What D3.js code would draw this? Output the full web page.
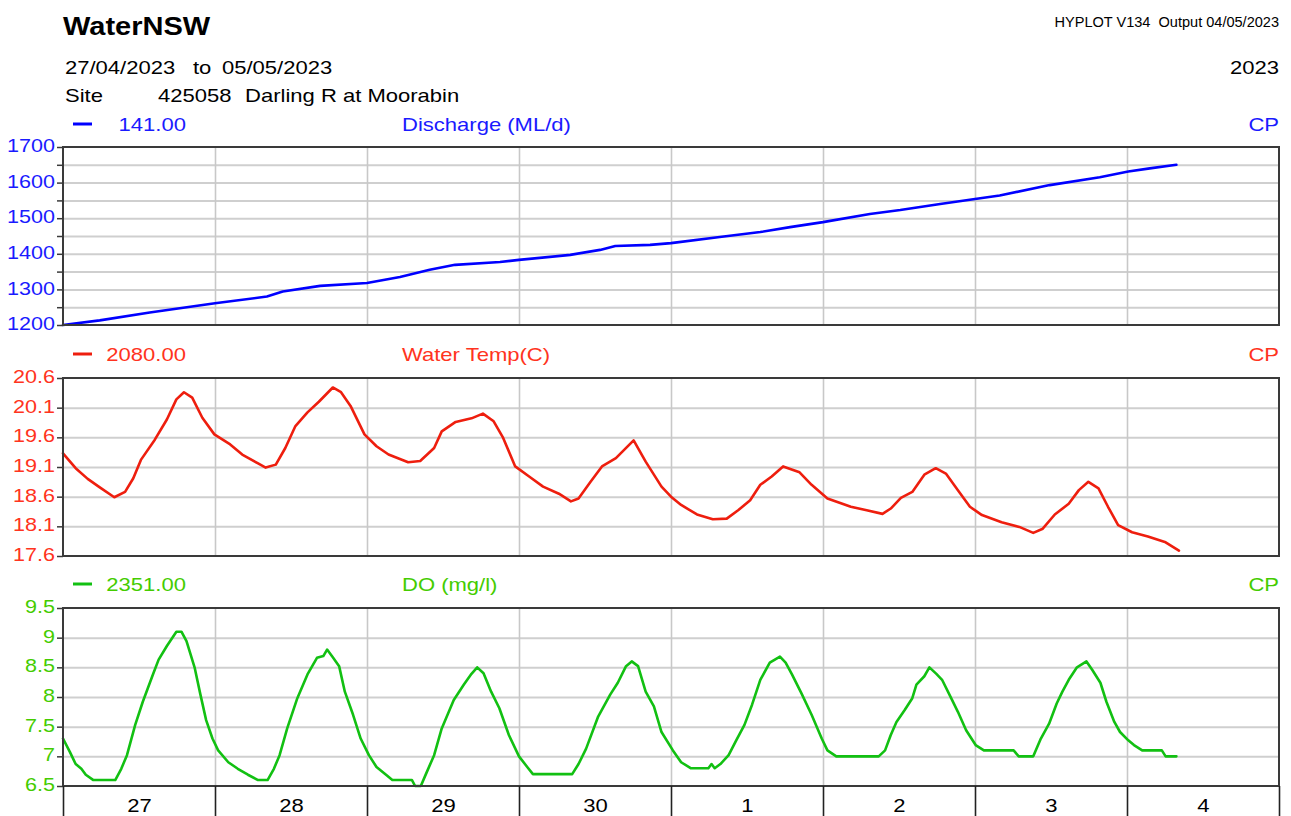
<!DOCTYPE html>
<html><head><meta charset="utf-8">
<script src="https://cdn.jsdelivr.net/npm/d3@7"></script>
<style>body{margin:0;background:#fff}svg{display:block}</style>
</head><body>
<svg id="c" width="1291" height="816"></svg>
<script>
// ---------- DATA ----------
const startDate = new Date(2023, 3, 27, 0, 0, 0);
const dayLabels = ["27", "28", "29", "30", "1", "2", "3", "4"];
const dischargeTicks = [1200, 1300, 1400, 1500, 1600, 1700];
const dischargeGrid = [1250, 1300, 1350, 1400, 1450, 1500, 1550, 1600, 1650];
const tempTicks = [17.6, 18.1, 18.6, 19.1, 19.6, 20.1, 20.6];
const doTicks = [6.5, 7, 7.5, 8, 8.5, 9, 9.5];
// [hours since 27/04/2023 00:00, value]
const discharge = [
  [0,1200],[5.8,1213],[13.7,1235],[24,1261],[32.2,1280],[34.7,1294],[40.6,1310],
  [48,1318],[53.2,1335],[57.9,1355],[61.9,1369],[69,1377],[72,1383],[80.1,1397],
  [84.8,1411],[87.2,1422],[92.7,1425],[96,1430],[103.7,1447],[110.1,1461],[114.8,1475],
  [120,1489],[127.4,1512],[132.2,1523],[138.5,1540],[144,1554],[147.9,1564],[155.8,1593],
  [163.7,1615],[168.2,1631],[171.6,1640],[175.8,1650]
];
const waterTemp = [
  [0,19.33],[2,19.08],[3.9,18.90],[5.75,18.76],[8.1,18.59],[9.8,18.68],[11.1,18.91],
  [12.3,19.22],[14.5,19.56],[16.4,19.90],[17.9,20.24],[19.1,20.36],[20.4,20.27],[22,19.93],
  [23.9,19.65],[26.4,19.48],[28.3,19.31],[30.8,19.16],[32,19.09],[33.6,19.14],[35.1,19.42],
  [36.7,19.79],[38.6,20.02],[40.4,20.20],[42.6,20.44],[43.9,20.36],[45.4,20.13],[47.6,19.65],
  [49.5,19.45],[51.4,19.31],[54.5,19.18],[56.4,19.20],[58.6,19.42],[59.8,19.70],[62,19.86],
  [64.5,19.92],[66.3,20.00],[68,19.87],[69.5,19.59],[71.4,19.11],[73.6,18.94],[75.8,18.77],
  [78.3,18.65],[80.2,18.52],[81.4,18.57],[83.3,18.85],[85.1,19.11],[87.3,19.25],[90.1,19.55],
  [92,19.19],[94.5,18.77],[96,18.60],[97.6,18.46],[100.1,18.30],[102.6,18.22],[104.8,18.23],
  [106.6,18.37],[108.5,18.54],[110.1,18.80],[111.9,18.94],[113.7,19.11],[116.3,19.01],
  [118.2,18.80],[120.7,18.57],[124.4,18.43],[126.9,18.37],[129.4,18.31],[130.7,18.40],
  [132.3,18.58],[134.1,18.68],[136,18.97],[137.8,19.08],[139.4,18.99],[141.3,18.71],
  [143.2,18.43],[145.1,18.29],[148.2,18.17],[151,18.09],[153.2,17.99],[154.7,18.06],
  [156.6,18.30],[158.8,18.48],[160.4,18.71],[161.9,18.85],[163.5,18.74],[165,18.43],
  [166.6,18.12],[168.8,18.00],[171.3,17.93],[174.1,17.83],[176.2,17.69]
];
const dissolvedOxygen = [
  [0,7.30],[1.1,7.07],[2,6.87],[2.9,6.79],[3.6,6.69],[4.8,6.6],[8.25,6.6],[9.2,6.79],
  [10.1,7.02],[11.4,7.53],[12.6,7.92],[14.2,8.38],[15.1,8.63],[16.4,8.86],[17.9,9.1],
  [18.7,9.1],[19.5,8.94],[20.8,8.49],[21.7,8.04],[22.6,7.61],[23.6,7.30],[24.5,7.10],
  [26.1,6.90],[27.6,6.79],[29.2,6.69],[30.8,6.6],[32.3,6.6],[33.3,6.79],[34.2,7.02],
  [35.4,7.47],[37,7.98],[38.6,8.38],[40.1,8.66],[41.1,8.69],[41.7,8.8],[42.6,8.67],
  [43.6,8.52],[44.5,8.09],[45.8,7.70],[47,7.30],[48.3,7.02],[49.5,6.82],[51.1,6.68],
  [52,6.6],[55.1,6.6],[55.6,6.5],[56.5,6.5],[57.3,6.70],[58.6,7.02],[59.8,7.47],[61.7,7.95],
  [63.3,8.21],[64.5,8.39],[65.4,8.5],[66.4,8.4],[67.6,8.09],[68.9,7.81],[70.4,7.36],[72,7.0],
  [73.3,6.82],[74.2,6.7],[80.4,6.7],[81.4,6.87],[82.6,7.13],[84.5,7.67],[86.4,8.04],
  [87.6,8.24],[88.9,8.52],[89.8,8.6],[90.8,8.52],[92,8.09],[93.3,7.84],[94.5,7.41],
  [96.3,7.10],[97.6,6.90],[99.1,6.8],[101.9,6.8],[102.4,6.87],[102.9,6.8],[103.8,6.87],
  [105.1,7.02],[106.3,7.27],[107.6,7.53],[108.8,7.87],[110.1,8.29],[111.6,8.58],[113.2,8.68],
  [114.1,8.58],[115.1,8.38],[116.6,8.06],[118.2,7.70],[119.8,7.30],[120.7,7.10],[122.1,7.0],
  [128.8,7.0],[129.8,7.10],[130.7,7.36],[131.6,7.58],[132.9,7.78],[134.1,7.98],[134.75,8.21],
  [136,8.35],[136.8,8.5],[137.9,8.39],[138.8,8.29],[140.1,8.01],[141.3,7.75],[142.6,7.44],
  [144.1,7.19],[145.4,7.1],[150.1,7.1],[150.9,7.0],[153.2,7.0],[154.4,7.30],[155.7,7.55],
  [156.9,7.89],[157.8,8.09],[158.8,8.29],[160.1,8.5],[161.6,8.6],[162.5,8.46],[163.8,8.24],
  [164.75,7.92],[166,7.58],[166.9,7.41],[168.2,7.27],[169.1,7.19],[170.4,7.1],[173.5,7.1],
  [174.1,7.0],[175.8,7.0]
];
const seriesNames = ["Discharge (ML/d)", "Water Temp(C)", "DO (mg/l)"];
const seriesCodes = ["141.00", "2080.00", "2351.00"];

// ---------- LAYOUT ----------
const left = 63, right = 1279;
const panels = [
  {top:147, bottom:325, data:discharge, domain:[1200,1700], ticks:dischargeTicks, grid:dischargeGrid, minor:[1250,1350,1450,1550,1650],
   line:"#0000ff", text:"#1a1aff", fmt:d3.format("d")},
  {top:378, bottom:556, data:waterTemp, domain:[17.6,20.6], ticks:tempTicks, grid:tempTicks.slice(1,-1), minor:[],
   line:"#ee1e0e", text:"#ff3320", fmt:d3.format(".1f")},
  {top:608, bottom:786, data:dissolvedOxygen, domain:[6.5,9.5], ticks:doTicks, grid:doTicks.slice(1,-1), minor:[],
   line:"#12c012", text:"#44cc00", fmt:v => String(v)}
];
const FONT = "'Liberation Sans', Arial, Helvetica, sans-serif";
const SX = 1.16;

const svg = d3.select("#c");
const toDate = h => d3.timeMinute.offset(startDate, Math.round(h * 60));
const x = d3.scaleTime().domain([startDate, d3.timeDay.offset(startDate, 8)]).range([left, right]);
const dayTicks = d3.range(9).map(i => d3.timeDay.offset(startDate, i));

function txt(g, str, xx, yy, o) {
  o = o || {};
  return g.append("text")
    .attr("transform", `translate(${xx},${yy}) scale(${o.sx || SX},1)`)
    .attr("text-anchor", o.anchor || "start")
    .attr("font-family", FONT)
    .attr("font-size", o.size || 19)
    .attr("font-weight", o.weight || "normal")
    .attr("fill", o.fill || "#000")
    .style("white-space", "pre")
    .text(str);
}

// ---------- HEADER ----------
txt(svg, "WaterNSW", 63, 35, {size:25, weight:"bold"});
txt(svg, "HYPLOT V134  Output 04/05/2023", 1279, 27, {size:14, anchor:"end", sx:1.04});
txt(svg, "27/04/2023", 65, 74);
txt(svg, "to", 193, 74);
txt(svg, "05/05/2023", 222, 74);
txt(svg, "2023", 1279, 74, {anchor:"end"});
txt(svg, "Site", 65, 102);
txt(svg, "425058", 158, 102);
txt(svg, "Darling R at Moorabin", 245, 102);

// ---------- PANELS ----------
const legendY = [131, 361, 591];
panels.forEach((p, i) => {
  const y = d3.scaleLinear().domain(p.domain).range([p.bottom, p.top]);
  const g = svg.append("g");

  // legend row
  const ly = legendY[i];
  g.append("line").attr("x1", 73).attr("x2", 92).attr("y1", ly - 7).attr("y2", ly - 7)
    .attr("stroke", p.line).attr("stroke-width", 3);
  txt(g, seriesCodes[i], 186, ly, {anchor:"end", fill:p.text});
  txt(g, seriesNames[i], 402, ly, {fill:p.text});
  txt(g, "CP", 1279, ly, {anchor:"end", fill:p.text});

  // horizontal grid
  const hg = g.append("g").attr("transform", `translate(${left},0)`)
    .call(d3.axisLeft(y).tickValues(p.grid).tickSize(-(right - left)).tickFormat(""));
  hg.select(".domain").remove();
  hg.selectAll("line").attr("stroke", "#cfcfcf").attr("stroke-width", 2);

  // vertical grid
  const vg = g.append("g").attr("transform", `translate(0,${p.bottom})`)
    .call(d3.axisBottom(x).tickValues(dayTicks.slice(1, -1)).tickSize(-(p.bottom - p.top)).tickFormat(""));
  vg.select(".domain").remove();
  vg.selectAll("line").attr("stroke", "#c8c8c8").attr("stroke-width", 1.6);

  // series line
  const line = d3.line().x(d => x(toDate(d[0]))).y(d => y(d[1]));
  g.append("path").datum(p.data).attr("d", line)
    .attr("fill", "none").attr("stroke", p.line).attr("stroke-width", 2.6)
    .attr("stroke-linejoin", "round").attr("stroke-linecap", "round");

  // border
  g.append("rect").attr("x", left).attr("y", p.top).attr("width", right - left).attr("height", p.bottom - p.top)
    .attr("fill", "none").attr("stroke", "#3a3a3a").attr("stroke-width", 2);

  // left axis ticks + labels
  const ax = g.append("g").attr("transform", `translate(${left},0)`)
    .call(d3.axisLeft(y).tickValues(p.ticks.concat(p.minor)).tickSize(6)
      .tickFormat(v => p.ticks.includes(v) ? p.fmt(v) : ""));
  ax.select(".domain").remove();
  ax.selectAll("line").attr("stroke", "#3a3a3a").attr("stroke-width", 1.5);
  ax.selectAll("text")
    .attr("x", null).attr("dy", null)
    .attr("transform", `translate(-8,4.6) scale(${SX},1)`)
    .attr("font-family", FONT).attr("font-size", 18.6).attr("fill", p.text).attr("text-anchor", "end");
});

// ---------- BOTTOM AXIS ----------
const bottomY = panels[2].bottom;
const bt = svg.append("g").attr("transform", `translate(0,${bottomY})`)
  .call(d3.axisBottom(x).tickValues(dayTicks).tickSize(32).tickFormat(""));
bt.select(".domain").remove();
bt.selectAll("line").attr("stroke", "#222").attr("stroke-width", 1.6);

const noonTicks = dayTicks.slice(0, 8).map(d => d3.timeHour.offset(d, 12));
const bl = svg.append("g").attr("transform", `translate(0,${bottomY})`)
  .call(d3.axisBottom(x).tickValues(noonTicks).tickSize(0)
    .tickFormat((d, i) => dayLabels[i]));
bl.select(".domain").remove();
bl.selectAll("text")
  .attr("y", null).attr("dy", null)
  .attr("transform", `translate(0,26) scale(${SX},1)`)
  .attr("font-family", FONT).attr("font-size", 19).attr("fill", "#000");
</script>
</body></html>
